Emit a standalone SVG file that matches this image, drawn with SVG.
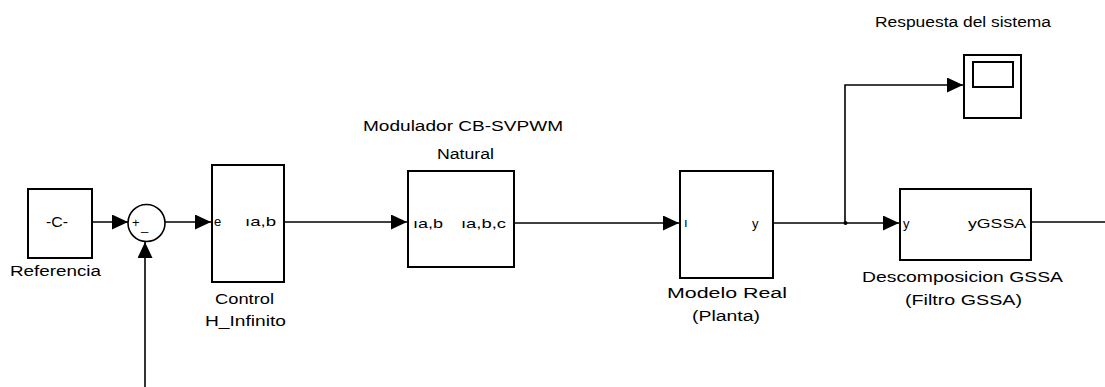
<svg xmlns="http://www.w3.org/2000/svg" width="1105" height="387" viewBox="0 0 1105 387">
<style>
.blk{fill:#fff;stroke:#000;stroke-width:2}
.ln{fill:none;stroke:#000;stroke-width:1.6}
text{font-family:"Liberation Sans",Arial,sans-serif;font-size:14px;fill:#000}
.p{font-size:13px}
</style>
<defs>
<marker id="ar" markerUnits="userSpaceOnUse" markerWidth="17" markerHeight="16" refX="16" refY="7.5" orient="auto">
<path d="M0,0 L16,7.5 L0,15 Z" fill="#000"/>
</marker>
</defs>
<rect width="1105" height="387" fill="#fff"/>
<g id="connectors">
<path class="ln" d="M92,222 H128" marker-end="url(#ar)"/>
<path class="ln" d="M165,222 H211" marker-end="url(#ar)"/>
<path class="ln" d="M284,222 H407" marker-end="url(#ar)"/>
<path class="ln" d="M514,223 H679" marker-end="url(#ar)"/>
<path class="ln" d="M773,223 H899" marker-end="url(#ar)"/>
<path class="ln" d="M845,223 V85 H963" marker-end="url(#ar)"/>
<path class="ln" d="M1031,222 H1105"/>
<path class="ln" d="M145,387 V242" marker-end="url(#ar)"/>
<circle cx="845.5" cy="223" r="2" fill="#000"/>
</g>
<g id="referencia">
<rect class="blk" x="28" y="189" width="64" height="69"/>
<text x="46" y="227" textLength="22" lengthAdjust="spacingAndGlyphs">-C-</text>
<text x="10" y="276" textLength="91" lengthAdjust="spacingAndGlyphs">Referencia</text>
</g>
<g id="sum">
<circle cx="146.5" cy="223" r="18.5" fill="#fff" stroke="#000" stroke-width="1.6"/>
<text x="132" y="227" class="p">+</text>
<text x="141" y="230" class="p">_</text>
</g>
<g id="control">
<rect class="blk" x="212" y="165" width="72" height="117"/>
<text x="214" y="226" class="p">e</text>
<text x="245" y="226" class="p" textLength="31" lengthAdjust="spacingAndGlyphs">ıa,b</text>
<text x="215" y="304" textLength="59" lengthAdjust="spacingAndGlyphs">Control</text>
<text x="205" y="326" textLength="81" lengthAdjust="spacingAndGlyphs">H_Infinito</text>
</g>
<g id="modulador">
<rect class="blk" x="408" y="171" width="106" height="96"/>
<text x="413" y="228" class="p" textLength="30" lengthAdjust="spacingAndGlyphs">ıa,b</text>
<text x="461" y="228" class="p" textLength="45" lengthAdjust="spacingAndGlyphs">ıa,b,c</text>
<text x="363" y="131" textLength="200" lengthAdjust="spacingAndGlyphs">Modulador CB-SVPWM</text>
<text x="437" y="159" textLength="57" lengthAdjust="spacingAndGlyphs">Natural</text>
</g>
<g id="modelo">
<rect class="blk" x="680" y="171" width="93" height="107"/>
<text x="684" y="227" class="p">ı</text>
<text x="752" y="228" class="p">y</text>
<text x="667" y="298" textLength="120" lengthAdjust="spacingAndGlyphs">Modelo Real</text>
<text x="692" y="321" textLength="68" lengthAdjust="spacingAndGlyphs">(Planta)</text>
</g>
<g id="descomposicion">
<rect class="blk" x="900" y="189" width="131" height="71"/>
<text x="903" y="228" class="p">y</text>
<text x="968" y="228" class="p" textLength="58" lengthAdjust="spacingAndGlyphs">yGSSA</text>
<text x="862" y="282" textLength="201" lengthAdjust="spacingAndGlyphs">Descomposicion GSSA</text>
<text x="905" y="305" textLength="117" lengthAdjust="spacingAndGlyphs">(Filtro GSSA)</text>
</g>
<g id="scope">
<rect class="blk" x="964" y="55" width="57" height="63"/>
<rect class="blk" x="973" y="62" width="40" height="25"/>
<text x="875" y="27" textLength="176" lengthAdjust="spacingAndGlyphs">Respuesta del sistema</text>
</g>
</svg>
